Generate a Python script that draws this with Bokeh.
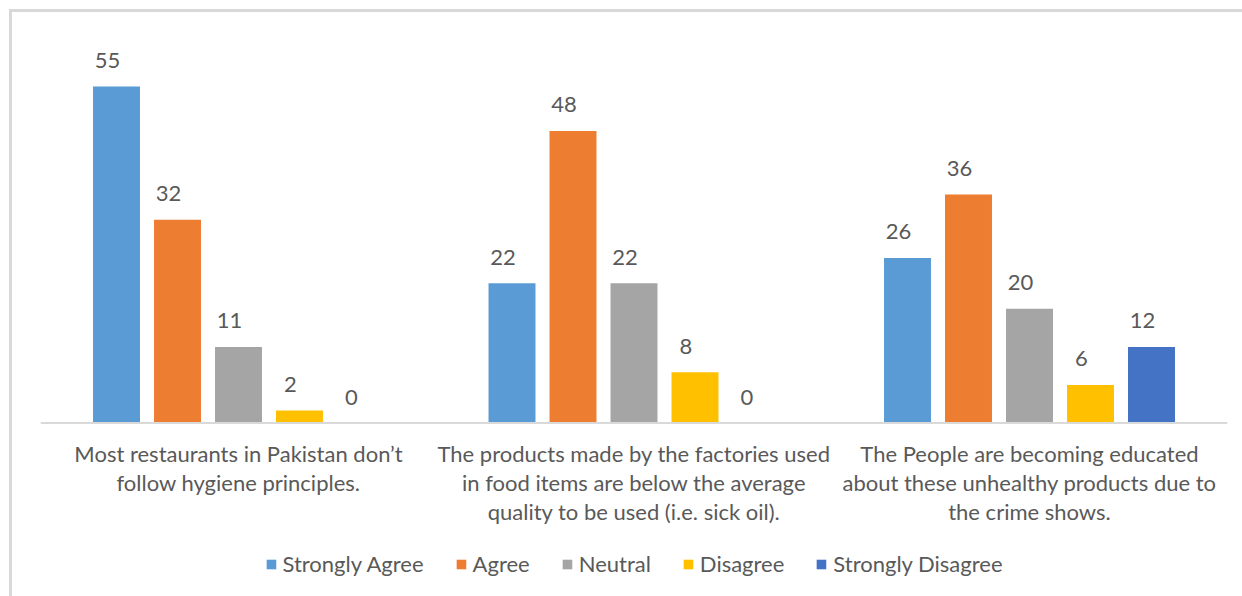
from bokeh.plotting import figure
from bokeh.models import FactorRange, Range1d, ColumnDataSource, Legend, LegendItem, Span
from bokeh.core.properties import value
from bokeh.embed import file_html
from bokeh.resources import INLINE

categories = [
    "Most restaurants in Pakistan don\u2019t\nfollow hygiene principles.",
    "The products made by the factories used\nin food items are below the average\nquality to be used (i.e. sick oil).",
    "The People are becoming educated\nabout these unhealthy products due to\nthe crime shows.",
]
series = ["Strongly Agree", "Agree", "Neutral", "Disagree", "Strongly Disagree"]
# bar heights as drawn in the picture
strongly_agree = [53, 22, 26]
agree = [32, 46, 36]
neutral = [12, 22, 18]
disagree = [2, 8, 6]
strongly_disagree = [0, 0, 12]
# data labels as printed on the picture
strongly_agree_lab = ["55", "22", "26"]
agree_lab = ["32", "48", "36"]
neutral_lab = ["11", "22", "20"]
disagree_lab = ["2", "8", "6"]
strongly_disagree_lab = ["0", "0", "12"]

values = [strongly_agree, agree, neutral, disagree, strongly_disagree]
labels = [strongly_agree_lab, agree_lab, neutral_lab, disagree_lab, strongly_disagree_lab]
colors = ["#5B9BD5", "#ED7D31", "#A5A5A5", "#FFC000", "#4472C4"]

FONT = "Lato"
TXT = "#595959"
FS = "22px"

factors = [(c, s) for c in categories for s in series]
x_range = FactorRange(factors=factors, factor_padding=0.0, group_padding=1.484,
                      range_padding=0.746, range_padding_units="absolute")

p = figure(width=1242, height=596, x_range=x_range, y_range=Range1d(-27.3, 64.96),
           output_backend="svg", toolbar_location=None,
           min_border_left=40, min_border_right=15, min_border_top=10, min_border_bottom=0)
p.xaxis.visible = False
p.yaxis.visible = False
p.grid.visible = False
p.outline_line_color = None
p.background_fill_color = None
p.border_fill_color = None
# chart area border (top and left edges visible in the picture)
p.styles = {
    "background-image": "linear-gradient(#d9d9d9,#d9d9d9), linear-gradient(#d9d9d9,#d9d9d9)",
    "background-size": "3px 100%, 100% 3px",
    "background-position": "9px 9px, 9px 9px",
    "background-repeat": "no-repeat",
}

items = []
for s, vals, labs, col in zip(series, values, labels, colors):
    src = ColumnDataSource(dict(x=[(c, s) for c in categories], top=vals, lab=labs))
    r = p.vbar(x="x", top="top", bottom=0, width=0.77, source=src,
               fill_color=col, line_color=None)
    p.text(x="x", y="top", text="lab", source=src, text_font=value(FONT),
           text_font_size=FS, text_color=TXT, text_align="center",
           text_baseline="middle", x_offset=-9, y_offset=-26)
    items.append(LegendItem(label=s, renderers=[r]))

# baseline
p.add_layout(Span(location=0, dimension="width", line_color="#d9d9d9", line_width=2))

# category labels
csrc = ColumnDataSource(dict(x=categories, y=[0] * len(categories), t=categories))
p.text(x="x", y="y", text="t", source=csrc, text_font=value(FONT), text_font_size=FS,
       text_color=TXT, text_align="center", text_baseline="top", y_offset=17,
       text_line_height=1.08)

legend = Legend(items=items, orientation="horizontal", location="bottom_center",
                glyph_width=12, glyph_height=12, label_standoff=6, spacing=31,
                padding=0, margin=19, border_line_color=None, background_fill_alpha=0,
                label_text_font=FONT, label_text_font_size=FS, label_text_color=TXT)
p.add_layout(legend, "center")

open("out.html", "w").write(file_html(p, INLINE))
